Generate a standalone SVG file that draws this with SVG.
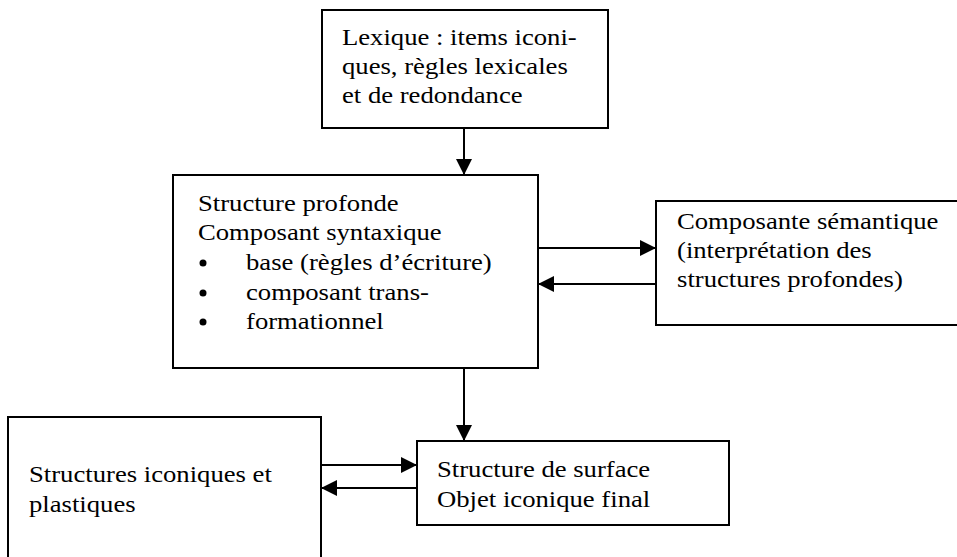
<svg xmlns="http://www.w3.org/2000/svg" width="957" height="557" viewBox="0 0 957 557">
<style>
.box{fill:#fff;stroke:#000;stroke-width:2}
.t{font-family:"Liberation Serif","Times New Roman",serif;font-size:23px;fill:#000}
.c{stroke:#000;stroke-width:2;fill:none}
</style>
<defs>
<marker id="ah" markerUnits="userSpaceOnUse" markerWidth="17" markerHeight="17" refX="16" refY="8" orient="auto">
<path d="M0,0 L16,8 L0,16 Z" fill="#000"/>
</marker>
</defs>
<rect width="957" height="557" fill="#fff"/>
<g id="lexique">
<rect class="box" x="322" y="10" width="286" height="118"/>
<g transform="translate(342,0) scale(1.16,1)">
<text class="t" x="0" y="45">Lexique : items iconi-</text>
<text class="t" x="0" y="74">ques, règles lexicales</text>
<text class="t" x="0" y="103">et de redondance</text>
</g>
</g>
<g id="structure-profonde">
<rect class="box" x="173" y="175" width="365" height="193"/>
<g transform="translate(198,0) scale(1.16,1)">
<text class="t" x="0" y="211">Structure profonde</text>
<text class="t" x="0" y="240">Composant syntaxique</text>
</g>
<circle cx="203" cy="263" r="3.5"/>
<circle cx="203" cy="293" r="3.5"/>
<circle cx="203" cy="322" r="3.5"/>
<g transform="translate(246,0) scale(1.16,1)">
<text class="t" x="0" y="270">base (règles d’écriture)</text>
<text class="t" x="0" y="300">composant trans-</text>
<text class="t" x="0" y="329">formationnel</text>
</g>
</g>
<g id="composante-semantique">
<rect class="box" x="656" y="201" width="320" height="124"/>
<g transform="translate(677,0) scale(1.16,1)">
<text class="t" x="0" y="229">Composante sémantique</text>
<text class="t" x="0" y="258">(interprétation des</text>
<text class="t" x="0" y="287">structures profondes)</text>
</g>
</g>
<g id="structures-iconiques">
<rect class="box" x="8" y="417" width="313" height="170"/>
<g transform="translate(29,0) scale(1.16,1)">
<text class="t" x="0" y="482">Structures iconiques et</text>
<text class="t" x="0" y="512">plastiques</text>
</g>
</g>
<g id="structure-surface">
<rect class="box" x="417" y="441" width="312" height="84"/>
<g transform="translate(437,0) scale(1.16,1)">
<text class="t" x="0" y="477">Structure de surface</text>
<text class="t" x="0" y="507">Objet iconique final</text>
</g>
</g>
<g id="connectors">
<line class="c" x1="464" y1="129" x2="464" y2="175" marker-end="url(#ah)"/>
<line class="c" x1="539" y1="248" x2="656" y2="248" marker-end="url(#ah)"/>
<line class="c" x1="655" y1="284" x2="538" y2="284" marker-end="url(#ah)"/>
<line class="c" x1="464" y1="369" x2="464" y2="441" marker-end="url(#ah)"/>
<line class="c" x1="322" y1="465" x2="417" y2="465" marker-end="url(#ah)"/>
<line class="c" x1="416" y1="488" x2="321" y2="488" marker-end="url(#ah)"/>
</g>
</svg>
